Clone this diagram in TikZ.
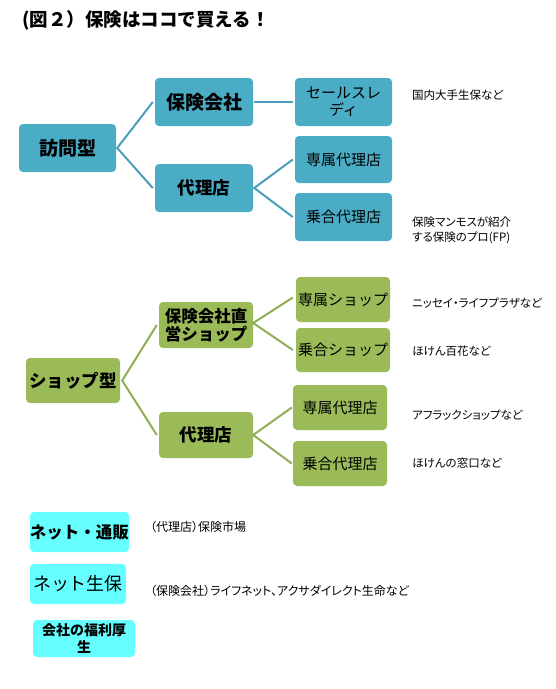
\documentclass[tikz,border=0pt]{standalone}
\usepackage{fontspec}
\setmainfont{Noto Sans CJK JP}
\newfontfamily\jpp[RawFeature=+palt]{Noto Sans CJK JP}
\usetikzlibrary{calc}
\definecolor{bl}{HTML}{4BACC6}
\definecolor{gr}{HTML}{9BBB59}
\definecolor{cy}{HTML}{66FFFF}
\definecolor{bll}{HTML}{4A9EBB}
\definecolor{grl}{HTML}{8FAE55}
\tikzset{
  bbox/.style={rounded corners=4pt, inner sep=0pt, align=center, text=black},
  bluebox/.style={bbox, fill=bl},
  greenbox/.style={bbox, fill=gr},
  cyanbox/.style={bbox, fill=cy},
  bigtxt/.style={font=\fontsize{19}{22}\selectfont\bfseries},
  midtxt/.style={font=\fontsize{17.5}{20}\selectfont\bfseries},
  smtxt/.style={font=\fontsize{15}{17}\selectfont},
  note/.style={anchor=west, inner sep=0pt, align=left, font=\jpp\fontsize{11.5}{15.5}\selectfont},
  bconn/.style={draw=bll, line width=2pt},
  gconn/.style={draw=grl, line width=2pt},
}
\begin{document}
\begin{tikzpicture}[x=1pt,y=-1pt]
\useasboundingbox (0,0) rectangle (555,689);
\node[anchor=west, inner sep=0pt, font=\fontsize{18.5}{21}\selectfont\bfseries] (title) at (22,20) {(図２）保険はココで買える！};

% visit type
\node[bluebox, bigtxt, minimum width=97, minimum height=48] (v) at (67.5,148) {訪問型};
\node[bluebox, bigtxt, minimum width=98, minimum height=48] (vk) at (204,102) {保険会社};
\node[bluebox, midtxt, minimum width=98, minimum height=48] (va) at (204,188) {代理店};
\node[bluebox, smtxt, minimum width=97, minimum height=48] (vs) at (343.5,102) {セールスレ\\ディ};
\node[bluebox, smtxt, minimum width=97, minimum height=47] (vse) at (343.5,159.5) {専属代理店};
\node[bluebox, smtxt, minimum width=97, minimum height=48] (vno) at (343.5,217) {乗合代理店};
\coordinate (f1) at ($(v.east)+(1,0)$);
\draw[bconn] ($(vk.west)+(-2,0)$) -- (f1) -- ($(va.west)+(-2,0)$);
\draw[bconn] ($(vk.east)+(1,0)$) -- ($(vs.west)+(-2,0)$);
\coordinate (f2) at ($(va.east)+(1,0)$);
\draw[bconn] ($(vse.west)+(-2,0)$) -- (f2) -- ($(vno.west)+(-2,0)$);
\node[note] (n1) at (412,95) {国内大手生保など};
\node[note] (n2) at (412,230.5) {保険マンモスが紹介\\する保険のプロ(FP)};

% shop type
\node[greenbox, midtxt, minimum width=94, minimum height=45] (s) at (73,380.5) {ショップ型};
\node[greenbox, font=\fontsize{16.5}{18}\selectfont\bfseries, minimum width=94, minimum height=46] (sc) at (206,325) {保険会社直\\営ショップ};
\node[greenbox, midtxt, minimum width=94, minimum height=46] (sa) at (206,435) {代理店};
\node[greenbox, smtxt, minimum width=94, minimum height=45] (s1) at (343,299.5) {専属ショップ};
\node[greenbox, smtxt, minimum width=94, minimum height=44] (s2) at (343,350) {乗合ショップ};
\node[greenbox, smtxt, minimum width=94, minimum height=45] (s3) at (340,407.5) {専属代理店};
\node[greenbox, smtxt, minimum width=94, minimum height=45] (s4) at (340,463.5) {乗合代理店};
\coordinate (g1) at ($(s.east)+(2,0)$);
\draw[gconn] ($(sc.west)+(-2,0)$) -- (g1) -- ($(sa.west)+(-2,0)$);
\coordinate (g2) at ($(sc.east)+(0,-2)$);
\draw[gconn] ($(s1.west)+(-3,-2)$) -- (g2) -- ($(s2.west)+(-3,0)$);
\coordinate (g3) at ($(sa.east)+(0,0)$);
\draw[gconn] ($(s3.west)+(-1,0)$) -- (g3) -- ($(s4.west)+(-1,0)$);
\node[note] (n3) at (412,303) {ニッセイ・ライフプラザなど};
\node[note] (n4) at (412,351) {ほけん百花など};
\node[note] (n5) at (412,415) {アフラックショップなど};
\node[note] (n6) at (412,463) {ほけんの窓口など};

% others
\node[cyanbox, font=\fontsize{16.5}{20}\selectfont\bfseries, minimum width=95, minimum height=40] (c1) at (79.5,532) {ネット・通販};
\node[cyanbox, font=\fontsize{18}{20}\selectfont, minimum width=96, minimum height=40] (c2) at (78,584) {ネット生保};
\node[cyanbox, font=\fontsize{14}{17}\selectfont\bfseries, minimum width=102, minimum height=37] (c3) at (84,638.5) {会社の福利厚\\生};
\node[note, font=\jpp\fontsize{12}{15}\selectfont] (n7) at (150,527) {（代理店）保険市場};
\node[note, font=\jpp\fontsize{12}{15}\selectfont] (n8) at (150,591) {（保険会社）ライフネット、アクサダイレクト生命など};
\end{tikzpicture}
\end{document}
